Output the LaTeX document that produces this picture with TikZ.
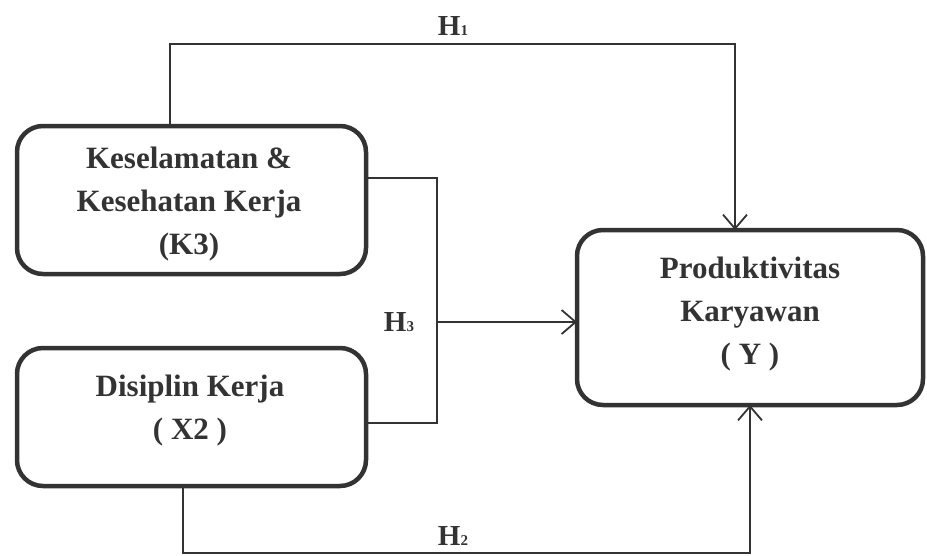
\documentclass[tikz,border=0pt]{standalone}
\usepackage{fontspec}
\setmainfont{Liberation Serif}
\usetikzlibrary{arrows.meta}
\definecolor{ink}{HTML}{333333}
\tikzset{
  varbox/.style={draw=ink, line width=4.5pt, rounded corners=26pt},
  vartext/.style={align=center, text=ink, font=\bfseries\fontsize{31}{43}\selectfont, inner sep=0pt},
  hlabel/.style={text=ink, font=\bfseries\fontsize{29}{30}\selectfont, inner sep=0pt},
  link/.style={draw=ink, line width=1.6pt},
  arr/.style={-{Straight Barb[length=14pt,width=24pt,line width=1.8pt]}},
}
\newcommand{\hsub}[1]{H{\fontsize{15}{16}\selectfont #1}}
\begin{document}
\begin{tikzpicture}[x=1pt,y=-1pt]
\useasboundingbox (0,0) rectangle (927,555);
% boxes
\draw[varbox] (17,126) rectangle (366,274);
\draw[varbox] (17,348) rectangle (366,486);
\draw[varbox] (577,230) rectangle (923,405);
\coordinate (k3top) at (170,126);
\coordinate (k3right) at (366,178);
\coordinate (x2right) at (366,423);
\coordinate (x2bottom) at (183,486);
\coordinate (ytop) at (735,230);
\coordinate (ybottom) at (750,405);
\coordinate (yleft) at (577,322);
\coordinate (h3start) at (437,322);
\node[vartext] (k3) at (189,204) {Keselamatan \&\\Kesehatan Kerja\\(K3)};
\node[vartext] (x2) at (190,411) {Disiplin Kerja\\( X2 )};
\node[vartext] (y) at (750,314) {Produktivitas\\Karyawan\\( Y )};
% connectors
\draw[link, arr] (k3top) |- (466,44) -| (ytop);
\draw[link] (k3right) -| (h3start) |- (x2right);
\draw[link, line width=2.4pt, arr] (h3start) -- (yleft);
\draw[link, arr] (x2bottom) |- (466,553) -| (ybottom);
% labels
\node[hlabel] (h1) at (453,26) {\hsub{1}};
\node[hlabel] (h3) at (399,322) {\hsub{3}};
\node[hlabel] (h2) at (453,536) {\hsub{2}};
\end{tikzpicture}
\end{document}
